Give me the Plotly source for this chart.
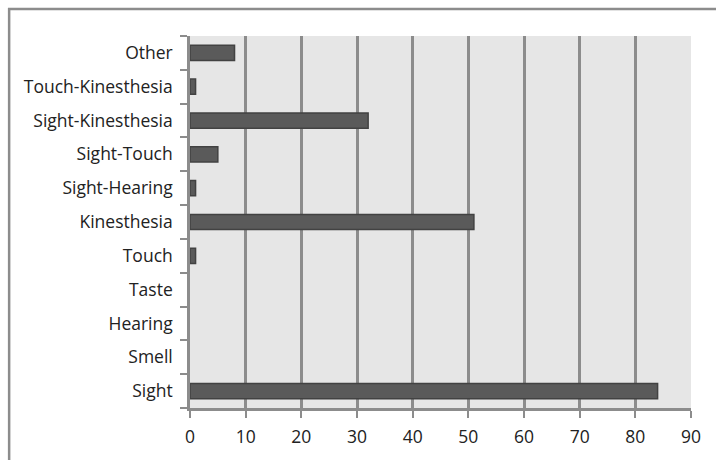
import plotly.graph_objects as go

categories = ["Sight", "Smell", "Hearing", "Taste", "Touch", "Kinesthesia",
              "Sight-Hearing", "Sight-Touch", "Sight-Kinesthesia",
              "Touch-Kinesthesia", "Other"]
values = [84, 0, 0, 0, 1, 51, 1, 5, 32, 1, 8]
x_ticks = [0, 10, 20, 30, 40, 50, 60, 70, 80, 90]

grid_color = "#8c8c8c"

fig = go.Figure(
    go.Bar(
        x=values,
        y=categories,
        orientation="h",
        marker=dict(
            color="#5a5a5a",
            # no outline on empty bars so they leave no sliver at zero
            line=dict(color="#424242", width=[1.5 if v > 0 else 0 for v in values]),
        ),
        width=0.45,
    )
)

fig.update_layout(
    width=716,
    height=460,
    margin=dict(l=190, r=25, t=36, b=52),
    paper_bgcolor="white",
    plot_bgcolor="#e6e6e6",
    font=dict(family="Open Sans, Noto Sans, sans-serif", size=17.5, color="#222222"),
    showlegend=False,
    shapes=[
        dict(type="rect", xref="paper", yref="paper",
             x0=-0.361, x1=1.06, y0=-0.16, y1=1.0726,
             line=dict(color="#8c8c8c", width=2.5), fillcolor="rgba(0,0,0,0)",
             layer="below"),
    ],
)

fig.update_xaxes(
    range=[0, 90],
    tickvals=x_ticks,
    ticktext=[str(v) for v in x_ticks],
    showgrid=True,
    gridcolor=grid_color,
    gridwidth=2.5,
    zeroline=False,
    showline=True,
    linecolor=grid_color,
    linewidth=2.5,
    ticks="outside",
    ticklen=7,
    tickwidth=2,
    tickcolor=grid_color,
    ticklabelstandoff=4,
    fixedrange=True,
)

fig.update_yaxes(
    categoryorder="array",
    categoryarray=categories,
    showgrid=False,
    zeroline=False,
    showline=True,
    linecolor=grid_color,
    linewidth=2.5,
    ticks="outside",
    tickson="boundaries",
    ticklen=7,
    tickwidth=2,
    tickcolor=grid_color,
    ticklabelstandoff=11,
    fixedrange=True,
)

fig.write_html("out.html")
